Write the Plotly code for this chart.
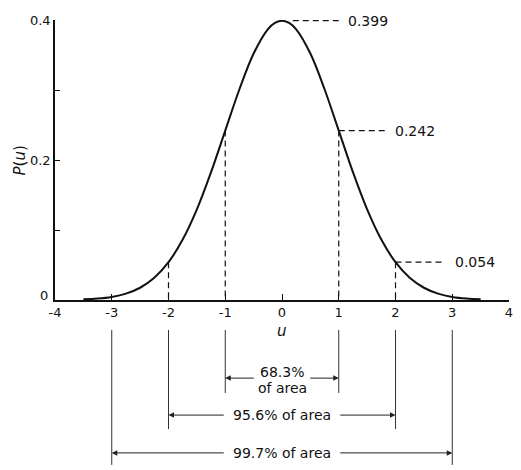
import plotly.graph_objects as go

# ---- data ----
u_vals = [-3.5, -3.25, -3.0, -2.75, -2.5, -2.25, -2.0, -1.75, -1.5, -1.25, -1.0,
          -0.75, -0.5, -0.25, -0.125, 0.0, 0.125, 0.25, 0.5, 0.75, 1.0, 1.25, 1.5,
          1.75, 2.0, 2.25, 2.5, 2.75, 3.0, 3.25, 3.5]
p_vals = [0.0009, 0.0020, 0.0044, 0.0091, 0.0175, 0.0317, 0.0540, 0.0863, 0.1295,
          0.1826, 0.2420, 0.3011, 0.3521, 0.3867, 0.3958, 0.3989, 0.3958, 0.3867,
          0.3521, 0.3011, 0.2420, 0.1826, 0.1295, 0.0863, 0.0540, 0.0317, 0.0175,
          0.0091, 0.0044, 0.0020, 0.0009]

marker_u = [-2, -1, 1, 2]
marker_p = [0.054, 0.242, 0.242, 0.054]

value_u = [0, 1, 2]
value_p = [0.399, 0.242, 0.054]
value_labels = ["0.399", "0.242", "0.054"]

band_halfwidth = [1, 2, 3]
band_labels = ["68.3%", "95.6% of area", "99.7% of area"]

x_ticks = [-4, -3, -2, -1, 0, 1, 2, 3, 4]
x_ticktext = ["-4", "-3", "-2", "-1", "0", "1", "2", "3", "4"]
y_ticks = [0, 0.1, 0.2, 0.3, 0.4]
y_ticktext = ["", "", "0.2", "", "0.4"]
y_zero_label = "0"

FONT = "DejaVu Sans"
BLACK = "#111111"
ANN = 14

fig = go.Figure()
fig.add_trace(go.Scatter(x=u_vals, y=p_vals, mode="lines",
                         line=dict(color=BLACK, width=2, shape="spline", smoothing=1.0),
                         hoverinfo="skip", showlegend=False))

shapes = []
annotations = []

# vertical dashed drop lines from curve to axis
for u, p in zip(marker_u, marker_p):
    shapes.append(dict(type="line", xref="x", yref="y", x0=u, x1=u, y0=p, y1=0,
                       line=dict(color=BLACK, width=1.2, dash="6px,4px")))

# horizontal dashed leaders + value labels
leader_start = [0.19, 1.0, 2.0]
leader_end = [1.05, 1.85, 2.88]
label_x = [1.12, 1.95, 3.02]
for i, (u, p, lab) in enumerate(zip(value_u, value_p, value_labels)):
    shapes.append(dict(type="line", xref="x", yref="y", x0=leader_start[i], x1=leader_end[i],
                       y0=p, y1=p, line=dict(color=BLACK, width=1.2, dash="6px,4px")))
    annotations.append(dict(x=label_x[i], y=p, xref="x", yref="y", text=lab,
                            showarrow=False, xanchor="left", yanchor="middle",
                            font=dict(family=FONT, size=ANN, color=BLACK)))

# lines below the axis and the area arrows (paper y coordinates)
line_top = -0.107
line_bottom = [-0.332, -0.461, -0.589]
arrow_y = [-0.279, -0.411, -0.546]
arrow_tail = [0.47, 1.0, 1.0]
for k, h in enumerate(band_halfwidth):
    for s in (-1, 1):
        shapes.append(dict(type="line", xref="x", yref="paper", x0=s * h, x1=s * h,
                           y0=line_top, y1=line_bottom[k],
                           line=dict(color="#333333", width=1)))
        annotations.append(dict(x=s * h, y=arrow_y[k], xref="x", yref="paper",
                                ax=s * arrow_tail[k], ay=0, axref="x", ayref="pixel",
                                text="", showarrow=True, arrowhead=2, arrowsize=1.1,
                                arrowwidth=1, arrowcolor="#222222"))

def center_text(txt, y):
    return dict(x=0, y=y, xref="x", yref="paper", text=txt, showarrow=False,
                xanchor="center", yanchor="middle",
                font=dict(family=FONT, size=ANN, color=BLACK))

annotations.append(center_text(band_labels[0], -0.256))
annotations.append(center_text("of area", -0.316))
annotations.append(center_text(band_labels[1], arrow_y[1]))
annotations.append(center_text(band_labels[2], arrow_y[2]))

# y "0" label sits a little above the axis line, as in the original
annotations.append(dict(x=0, y=0, xref="paper", yref="y", text=y_zero_label,
                        showarrow=False, xanchor="right", yanchor="middle",
                        xshift=-5, yshift=5, font=dict(family=FONT, size=13, color=BLACK)))

# axis titles
annotations.append(dict(x=0, y=-0.11, xref="x", yref="paper", text="<i>u</i>",
                        showarrow=False, xanchor="center", yanchor="middle",
                        font=dict(family=FONT, size=15, color=BLACK)))
annotations.append(dict(x=-0.076, y=0.5, xref="paper", yref="paper", text="<i>P</i>(<i>u</i>)",
                        textangle=-90, showarrow=False, xanchor="center", yanchor="middle",
                        font=dict(family=FONT, size=15, color=BLACK)))

fig.update_layout(
    width=521, height=470,
    margin=dict(l=55, r=8, t=20, b=170),
    paper_bgcolor="white", plot_bgcolor="white",
    font=dict(family=FONT, size=13, color=BLACK),
    shapes=shapes, annotations=annotations,
    xaxis=dict(range=[-4, 4], tickvals=x_ticks, ticktext=x_ticktext,
               ticks="inside", ticklen=6, tickwidth=1.2, tickcolor=BLACK,
               showline=True, linecolor=BLACK, linewidth=1.5,
               showgrid=False, zeroline=False, fixedrange=True),
    yaxis=dict(range=[0, 0.4], tickvals=y_ticks, ticktext=y_ticktext,
               ticks="inside", ticklen=5, tickwidth=1.2, tickcolor=BLACK,
               showline=True, linecolor=BLACK, linewidth=1.5,
               showgrid=False, zeroline=False, fixedrange=True),
)

fig.write_html("out.html", config={"displayModeBar": False},
               post_script="document.body.style.margin='0';")
